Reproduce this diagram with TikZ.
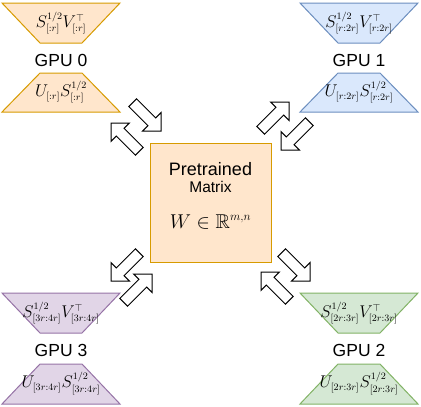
\RequirePackage{fix-cm}
\documentclass[tikz,border=0pt]{standalone}
\usepackage{amssymb}
\usepackage{fontspec}
\setmainfont{Liberation Sans}
\usetikzlibrary{calc}

\DeclareMathSizes{17}{17}{9.8}{7}
\DeclareMathSizes{20}{20}{12}{8}

\definecolor{orangefill}{HTML}{FFE6CC}
\definecolor{orangeline}{HTML}{D79B00}
\definecolor{bluefill}{HTML}{DAE8FC}
\definecolor{blueline}{HTML}{6C8EBF}
\definecolor{greenfill}{HTML}{D5E8D4}
\definecolor{greenline}{HTML}{82B366}
\definecolor{purplefill}{HTML}{E1D5E7}
\definecolor{purpleline}{HTML}{9673A6}

\tikzset{
	gpulabel/.style={anchor=base, font=\fontsize{17.5}{20}\selectfont},
	factor/.style={font=\fontsize{17}{19}\selectfont},
	blockarrow/.style={draw=black, fill=white, line width=1pt, line join=miter,
		to path={($(\tikztostart)!5.5pt!90:(\tikztotarget)$)
			-- ($($(\tikztotarget)!13pt!(\tikztostart)$)!5.5pt!90:(\tikztotarget)$)
			-- ($($(\tikztotarget)!13pt!(\tikztostart)$)!13pt!90:(\tikztotarget)$)
			-- (\tikztotarget)
			-- ($($(\tikztotarget)!13pt!(\tikztostart)$)!13pt!-90:(\tikztotarget)$)
			-- ($($(\tikztotarget)!13pt!(\tikztostart)$)!5.5pt!-90:(\tikztotarget)$)
			-- ($(\tikztostart)!5.5pt!-90:(\tikztotarget)$) -- cycle}},
}

\begin{document}
\begin{tikzpicture}[x=1pt, y=-1pt]
	\useasboundingbox (0,0) rectangle (421,407);

	% Pretrained matrix
	\node (box) [draw=orangeline, fill=orangefill, line width=1pt, minimum width=121pt, minimum height=119pt] at (210.5,202.5) {};
	\node (pre) [anchor=base, font=\fontsize{18}{20}\selectfont] at (210.5,175) {Pretrained};
	\node (mat) [anchor=base, font=\fontsize{15.5}{18}\selectfont] at (210.5,192.5) {Matrix};
	\node (wmn) [anchor=base, font=\fontsize{20}{22}\selectfont] at (210.5,228) {$W\in\mathbb{R}^{m,n}$};

	% GPU 0
	\draw[draw=orangeline, fill=orangefill, line width=1pt] (2,3) -- (120,3) -- (82,43) -- (40,43) -- cycle;
	\node (g0top) [factor] at (61,23) {$S^{1/2}_{[:r]}V^{\top}_{[:r]}$};
	\node (gpu0) [gpulabel] at (61,66.5) {GPU 0};
	\draw[draw=orangeline, fill=orangefill, line width=1pt] (40,73) -- (82,73) -- (120,112) -- (2,112) -- cycle;
	\node (g0bot) [factor] at (61,92) {$U_{[:r]}S^{1/2}_{[:r]}$};

	% GPU 1
	\draw[draw=blueline, fill=bluefill, line width=1pt] (300,3) -- (418,3) -- (380,43) -- (338,43) -- cycle;
	\node (g1top) [factor] at (359,23) {$S^{1/2}_{[r:2r]}V^{\top}_{[r:2r]}$};
	\node (gpu1) [gpulabel] at (359,66.5) {GPU 1};
	\draw[draw=blueline, fill=bluefill, line width=1pt] (338,73) -- (380,73) -- (418,112) -- (300,112) -- cycle;
	\node (g1bot) [factor] at (359,92) {$U_{[r:2r]}S^{1/2}_{[r:2r]}$};

	% GPU 2
	\draw[draw=greenline, fill=greenfill, line width=1pt] (300,293) -- (418,293) -- (380,333) -- (338,333) -- cycle;
	\node (g2top) [factor] at (359,313) {$S^{1/2}_{[2r:3r]}V^{\top}_{[2r:3r]}$};
	\node (gpu2) [gpulabel] at (359,356.5) {GPU 2};
	\draw[draw=greenline, fill=greenfill, line width=1pt] (338,364) -- (380,364) -- (418,404) -- (300,404) -- cycle;
	\node (g2bot) [factor] at (359,383.5) {$U_{[2r:3r]}S^{1/2}_{[2r:3r]}$};

	% GPU 3
	\draw[draw=purpleline, fill=purplefill, line width=1pt] (2,293) -- (120,293) -- (82,333) -- (40,333) -- cycle;
	\node (g3top) [factor] at (61,313) {$S^{1/2}_{[3r:4r]}V^{\top}_{[3r:4r]}$};
	\node (gpu3) [gpulabel] at (61,356.5) {GPU 3};
	\draw[draw=purpleline, fill=purplefill, line width=1pt] (40,364) -- (82,364) -- (120,404) -- (2,404) -- cycle;
	\node (g3bot) [factor] at (61,383.5) {$U_{[3r:4r]}S^{1/2}_{[3r:4r]}$};

	% arrow ends
	\coordinate (in0a) at (132.7,102.7);  \coordinate (in0b) at (161,131);
	\coordinate (out0a) at (139.3,151.3); \coordinate (out0b) at (111,123);
	\coordinate (out1a) at (260.7,130.3); \coordinate (out1b) at (289,102);
	\coordinate (in1a) at (309.3,121.7);  \coordinate (in1b) at (281,150);
	\coordinate (out2a) at (281.7,252.7); \coordinate (out2b) at (310,281);
	\coordinate (in2a) at (289.3,300.3);  \coordinate (in2b) at (261,272);
	\coordinate (out3a) at (139.3,252.7); \coordinate (out3b) at (111,281);
	\coordinate (in3a) at (123.7,302.3);  \coordinate (in3b) at (152,274);

	% arrows
	\draw[blockarrow] (in0a) to (in0b);
	\draw[blockarrow] (out0a) to (out0b);
	\draw[blockarrow] (out1a) to (out1b);
	\draw[blockarrow] (in1a) to (in1b);
	\draw[blockarrow] (out2a) to (out2b);
	\draw[blockarrow] (in2a) to (in2b);
	\draw[blockarrow] (out3a) to (out3b);
	\draw[blockarrow] (in3a) to (in3b);
\end{tikzpicture}
\end{document}
